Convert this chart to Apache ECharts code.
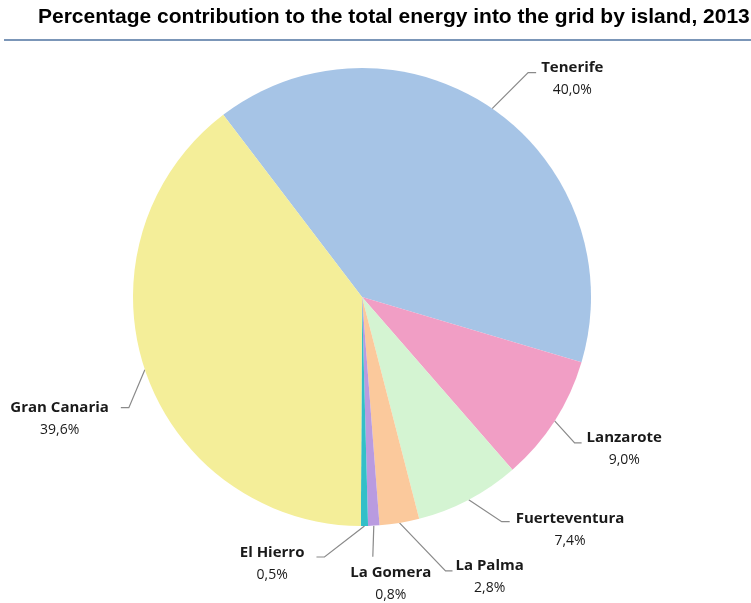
<!DOCTYPE html>
<html>
<head>
<meta charset="utf-8">
<script src="https://cdn.jsdelivr.net/npm/echarts@6/dist/echarts.min.js"></script>
<style>
html,body{margin:0;padding:0;background:#fff;}
#chart{width:751px;height:603px;}
</style>
</head>
<body>
<div id="chart"></div>
<script>
// ---- data ----
var islands = ['Tenerife', 'Lanzarote', 'Fuerteventura', 'La Palma', 'La Gomera', 'El Hierro', 'Gran Canaria'];
var shares = [40.0, 9.0, 7.4, 2.8, 0.8, 0.5, 39.6];
var titleText = 'Percentage contribution to the total energy into the grid by island, 2013';

// ---- styles ----
var colors = ['#a6c4e6', '#f19ec5', '#d4f4d2', '#fbc99c', '#b99be0', '#33bfc8', '#f4ee99'];
// leader geometry relative to the slice anchor: elbow offset, tail length, label side, gap, name offset
var leaders = [
  {ex: 36, ey: -36, hx: 8, side: 'r', gap: 5, ny: -5},
  {ex: 20, ey: 22, hx: 7, side: 'r', gap: 5, ny: -5},
  {ex: 33, ey: 22, hx: 8, side: 'r', gap: 6, ny: -3},
  {ex: 46, ey: 48, hx: 7, side: 'r', gap: 3, ny: -5},
  {ex: -1, ey: 31, hx: 0, side: 'c', gap: 18, ny: 16},
  {ex: -40, ey: 31, hx: -8, side: 'l', gap: 12, ny: -4},
  {ex: -16, ey: 38, hx: -8, side: 'l', gap: 12, ny: 0}
];
var LABEL_FONT = 'Open Sans';
var nameFont = 'bold 15px "Open Sans"';
var LINE_H = 22;

var measureCtx = document.createElement('canvas').getContext('2d');
function textW(t, font) { measureCtx.font = font; return measureCtx.measureText(t).width; }

var chart = echarts.init(document.getElementById('chart'), null, {renderer: 'canvas'});

var CX = 362, CY = 297, R = 229, START = 127.3;

var seriesData = islands.map(function (n, i) {
  return {name: n, value: shares[i], itemStyle: {color: colors[i]}};
});

chart.setOption({
  backgroundColor: '#ffffff',
  animation: false,
  title: {
    text: titleText,
    left: 33,
    top: 2,
    textStyle: {fontFamily: 'Liberation Sans', fontWeight: 'bold', fontSize: 21, color: '#000'}
  },
  graphic: [{
    type: 'line',
    shape: {x1: 4, y1: 40, x2: 751, y2: 40},
    style: {stroke: '#7b96b8', lineWidth: 2}
  }],
  series: [{
    type: 'pie',
    center: [CX, CY],
    radius: R,
    startAngle: START,
    clockwise: true,
    avoidLabelOverlap: false,
    data: seriesData,
    itemStyle: {borderWidth: 0},
    label: {
      show: true,
      position: 'outside',
      overflow: 'none',
      formatter: function (p) {
        return '{n|' + p.name + '}\n{p|' + p.value.toFixed(1).replace('.', ',') + '%}';
      },
      rich: {
        n: {fontFamily: LABEL_FONT, fontWeight: 'bold', fontSize: 15, color: '#1a1a1a', lineHeight: LINE_H, align: 'center'},
        p: {fontFamily: LABEL_FONT, fontWeight: 'normal', fontSize: 14, color: '#1a1a1a', lineHeight: LINE_H, align: 'center'}
      }
    },
    labelLine: {show: true, lineStyle: {color: '#8a8a8a', width: 1.2}},
    emphasis: {disabled: true},
    labelLayout: function (params) {
      var i = params.dataIndex;
      var L = leaders[i];
      var p0 = params.labelLinePoints && params.labelLinePoints[0];
      if (!p0) {
        var cum = 0, tot = 0;
        for (var k = 0; k < shares.length; k++) tot += shares[k];
        for (var k2 = 0; k2 < i; k2++) cum += shares[k2];
        var a = (START - (cum + shares[i] / 2) / tot * 360) * Math.PI / 180;
        p0 = [CX + R * Math.cos(a), CY - R * Math.sin(a)];
      }
      var p1 = [p0[0] + L.ex, p0[1] + L.ey];
      var p2 = [p1[0] + L.hx, p1[1]];
      var w = textW(islands[i], nameFont);
      var cx;
      if (L.side === 'r') cx = p2[0] + L.gap + w / 2;
      else if (L.side === 'l') cx = p2[0] - L.gap - w / 2;
      else cx = p2[0] + L.gap;
      var nameCY = p2[1] + L.ny;
      return {
        x: cx,
        y: nameCY - LINE_H / 2,
        align: 'center',
        verticalAlign: 'top',
        labelLinePoints: [p0, p1, p2]
      };
    }
  }]
});
</script>
</body>
</html>
